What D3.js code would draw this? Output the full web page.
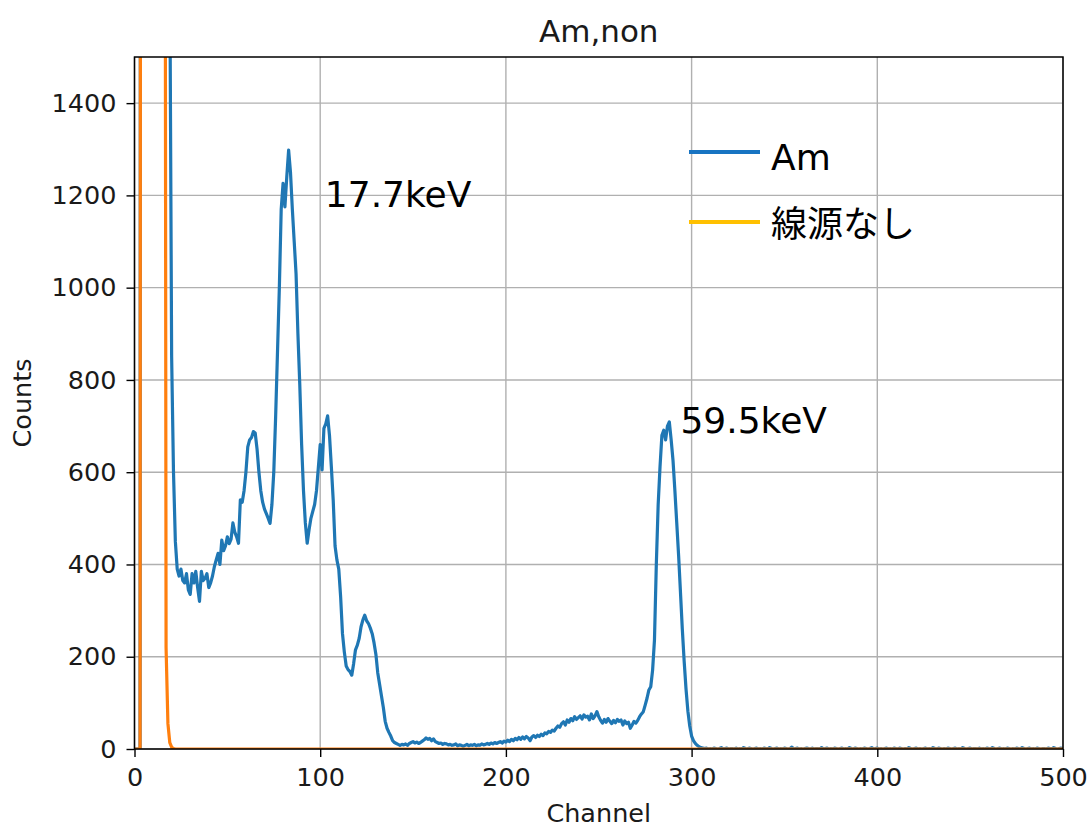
<!DOCTYPE html>
<html>
<head>
<meta charset="utf-8">
<script src="https://cdn.jsdelivr.net/npm/d3@7"></script>
<style>
  html, body { margin: 0; padding: 0; background: #ffffff; }
  svg { display: block; }
</style>
</head>
<body>
<svg id="chart" width="1089" height="827"></svg>
<script>
// Spectrum counts per channel (index = channel number), Am-241 source
const amCounts = [
  0,0,0,0,11000,10500,9500,8800,8000,7600,            // 0
  7000,6600,6200,5800,5300,4800,4200,3400,2600,1700,  // 10
  850,600,450,390,375,390,365,360,380,345,            // 20
  335,380,360,385,350,320,385,365,370,380,            // 30
  350,360,375,395,410,424,400,453,430,440,            // 40
  460,445,455,490,470,460,446,540,535,560,            // 50
  600,655,670,675,688,685,650,600,560,535,            // 60
  520,510,500,489,530,600,720,860,1000,1170,          // 70
  1226,1175,1240,1298,1250,1170,1100,1030,900,790,    // 80
  660,560,490,446,475,500,515,530,560,610,            // 90
  660,605,695,705,722,680,612,540,440,410,            // 100
  390,330,250,210,180,172,168,160,185,215,            // 110
  225,240,265,280,290,278,272,262,250,230,            // 120
  205,165,140,115,90,60,45,36,28,18,                  // 130
  14,12,10,8,10,9,11,8,12,14,                         // 140
  16,13,15,12,14,17,20,24,21,23,                      // 150
  18,22,16,14,12,13,10,12,11,9,                       // 160
  10,8,9,11,7,9,8,6,8,10,                             // 170
  7,9,8,10,7,9,8,11,9,10,                             // 180
  12,10,13,11,14,12,14,16,13,17,                      // 190
  15,19,16,21,18,23,20,25,21,26,                      // 200
  22,27,24,18,26,29,25,30,27,32,                      // 210
  29,35,33,38,36,41,39,45,50,47,                      // 220
  55,59,52,63,58,66,61,70,64,68,                      // 230
  72,65,74,69,71,63,76,66,72,81,                      // 240
  70,62,56,64,58,66,60,55,62,57,                      // 250
  64,60,63,52,61,55,58,45,52,60,                      // 260
  56,62,70,76,81,95,110,128,135,171,                  // 270
  236,400,530,612,680,691,670,700,709,670,            // 280
  625,560,490,420,340,260,190,130,82,50,              // 290
  28,18,12,8,5,3,2,1,2,0,                             // 300
  1,0,2,1,0,1,3,0,1,2,                                // 310
  0,1,1,0,2,0,1,0,3,1,                                // 320
  0,2,1,0,1,2,0,1,0,2,                                // 330
  1,0,3,1,0,1,2,0,1,0,                                // 340
  2,1,0,1,4,0,1,2,0,1,                                // 350
  0,1,2,1,0,2,0,1,1,0,                                // 360
  3,0,1,2,0,1,0,2,1,0,                                // 370
  1,2,0,1,0,3,1,0,2,1,                                // 380
  0,1,0,2,1,0,1,3,0,1,                                // 390
  2,0,1,0,1,2,0,1,0,2,                                // 400
  1,0,2,1,0,1,0,3,1,0,                                // 410
  1,2,0,1,0,1,2,0,1,0,                                // 420
  3,1,0,2,1,0,1,0,2,1,                                // 430
  0,1,2,0,1,0,3,1,0,1,                                // 440
  2,0,1,1,0,2,0,1,0,2,                                // 450
  1,0,3,1,0,1,2,0,1,0,                                // 460
  2,1,0,1,0,2,1,0,3,1,                                // 470
  0,1,2,0,1,0,2,1,0,1,                                // 480
  1,0,2,1,0,3,1,0,1,2,                                // 490
  0                                                   // 500
];

// Background run without a source (線源なし)
const noneCounts = [
  0,0,0,0,9000,14000,12000,10000,9000,8000,           // 0
  7500,7000,6500,6000,5500,5000,3800,220,55,14,       // 10
  4,1,0,0,0,0,0,0,0,0,                                // 20
  0,0,0,0,0,0,0,0,0,0, 0,0,0,0,0,0,0,0,0,0, 0,0,0,0,0,0,0,0,0,0, 0,0,0,0,0,0,0,0,0,0, 0,0,0,0,0,0,0,0,0,0, // 30
  0,0,0,0,0,0,0,0,0,0, 0,0,0,0,0,0,0,0,0,0, 0,0,0,0,0,0,0,0,0,0, 0,0,0,0,0,0,0,0,0,0, 0,0,0,0,0,0,0,0,0,0, // 80
  0,0,0,0,0,0,0,0,0,0, 0,0,0,0,0,0,0,0,0,0, 0,0,0,0,0,0,0,0,0,0, 0,0,0,0,0,0,0,0,0,0, 0,0,0,0,0,0,0,0,0,0, // 130
  0,0,0,0,0,0,0,0,0,0, 0,0,0,0,0,0,0,0,0,0, 0,0,0,0,0,0,0,0,0,0, 0,0,0,0,0,0,0,0,0,0, 0,0,0,0,0,0,0,0,0,0, // 180
  0,0,0,0,0,0,0,0,0,0, 0,0,0,0,0,0,0,0,0,0, 0,0,0,0,0,0,0,0,0,0, 0,0,0,0,0,0,0,0,0,0, 0,0,0,0,0,0,0,0,0,0, // 230
  0,0,0,0,0,0,0,0,0,0, 0,0,0,0,0,0,0,0,0,0, 0,0,0,0,0,0,0,0,0,0, 0,0,0,0,0,0,0,0,0,0, 0,0,0,0,0,0,0,0,0,0, // 280
  0,0,0,0,0,0,0,0,0,0, 0,0,0,0,0,0,0,0,0,0, 0,0,0,0,0,0,0,0,0,0, 0,0,0,0,0,0,0,0,0,0, 0,0,0,0,0,0,0,0,0,0, // 330
  0,0,0,0,0,0,0,0,0,0, 0,0,0,0,0,0,0,0,0,0, 0,0,0,0,0,0,0,0,0,0, 0,0,0,0,0,0,0,0,0,0, 0,0,0,0,0,0,0,0,0,0, // 380
  0,0,0,0,0,0,0,0,0,0, 0,0,0,0,0,0,0,0,0,0, 0,0,0,0,0,0,0,0,0,0, 0,0,0,0,0,0,0,0,0,0, 0,0,0,0,0,0,0,0,0,0, // 430
  0,0,0,0,0,0,0,0,0,0, 0,0,0,0,0,0,0,0,0,0,           // 480
  0                                                   // 500
];

const xTicks = [0, 100, 200, 300, 400, 500];
const yTicks = [0, 200, 400, 600, 800, 1000, 1200, 1400];
const xDomain = [0, 500];
const yDomain = [0, 1500];

const titleText = "Am,non";
const xLabel = "Channel";
const yLabel = "Counts";
const seriesNames = ["Am", "線源なし"];
const peakLabels = [
  { text: "17.7keV", channel: 102.5, counts: 1175 },
  { text: "59.5keV", channel: 294, counts: 685 }
];

// ---- layout ----
const svg = d3.select("#chart");
const M = { left: 134.5, right: 1063, top: 57, bottom: 749 };
const tickFont = "'DejaVu Sans', sans-serif";
const noteFont = "'DejaVu Sans', 'Noto Sans CJK JP', sans-serif";

const x = d3.scaleLinear().domain(xDomain).range([M.left, M.right]);
const y = d3.scaleLinear().domain(yDomain).range([M.bottom, M.top]);

// grid
const grid = svg.append("g").attr("stroke", "#b0b0b0").attr("stroke-width", 1.4);
grid.selectAll("line.gx").data(xTicks).join("line")
  .attr("x1", d => x(d)).attr("x2", d => x(d))
  .attr("y1", M.top).attr("y2", M.bottom);
grid.selectAll("line.gy").data(yTicks).join("line")
  .attr("x1", M.left).attr("x2", M.right)
  .attr("y1", d => y(d)).attr("y2", d => y(d));

// spectra, clipped to the axes box
svg.append("clipPath").attr("id", "plotClip")
  .append("rect")
  .attr("x", M.left).attr("y", M.top)
  .attr("width", M.right - M.left).attr("height", M.bottom - M.top);

const line = d3.line()
  .x((d, i) => x(i))
  .y(d => y(d));

const plotG = svg.append("g").attr("clip-path", "url(#plotClip)");
plotG.append("path").datum(amCounts)
  .attr("d", line)
  .attr("fill", "none").attr("stroke", "#1f77b4")
  .attr("stroke-width", 3.2).attr("stroke-linejoin", "round");
plotG.append("path").datum(noneCounts)
  .attr("d", line)
  .attr("fill", "none").attr("stroke", "#ff7f0e")
  .attr("stroke-width", 3.2).attr("stroke-linejoin", "round");

// axes
const xAxis = d3.axisBottom(x).tickValues(xTicks).tickSize(8).tickPadding(10).tickFormat(d3.format("d"));
const yAxis = d3.axisLeft(y).tickValues(yTicks).tickSize(8).tickPadding(10).tickFormat(d3.format("d"));

const gx = svg.append("g").attr("transform", `translate(0,${M.bottom})`).call(xAxis);
const gy = svg.append("g").attr("transform", `translate(${M.left},0)`).call(yAxis);
[gx, gy].forEach(g => {
  g.select(".domain").remove();
  g.selectAll(".tick line").attr("stroke", "#000").attr("stroke-width", 1.4);
  g.selectAll(".tick text")
    .attr("fill", "#1a1a1a")
    .style("font-family", tickFont)
    .style("font-size", "25.5px");
});
gx.selectAll(".tick text").attr("dy", "0.76em");

// spines
svg.append("rect")
  .attr("x", M.left).attr("y", M.top)
  .attr("width", M.right - M.left).attr("height", M.bottom - M.top)
  .attr("fill", "none").attr("stroke", "#000").attr("stroke-width", 1.5);

// title and axis labels
svg.append("text")
  .attr("x", (M.left + M.right) / 2).attr("y", 42)
  .attr("text-anchor", "middle")
  .style("font-family", tickFont).style("font-size", "31px")
  .attr("fill", "#1a1a1a")
  .text(titleText);

svg.append("text")
  .attr("x", (M.left + M.right) / 2).attr("y", 822)
  .attr("text-anchor", "middle")
  .style("font-family", tickFont).style("font-size", "25.5px")
  .attr("fill", "#1a1a1a")
  .text(xLabel);

svg.append("text")
  .attr("transform", `translate(31,${(M.top + M.bottom) / 2}) rotate(-90)`)
  .attr("text-anchor", "middle")
  .style("font-family", tickFont).style("font-size", "25.5px")
  .attr("fill", "#1a1a1a")
  .text(yLabel);

// peak annotations
svg.selectAll("text.peak").data(peakLabels).join("text")
  .attr("class", "peak")
  .attr("x", d => x(d.channel))
  .attr("y", d => y(d.counts))
  .style("font-family", noteFont).style("font-size", "36px")
  .attr("fill", "#000")
  .text(d => d.text);

// legend
const legendColors = ["#1874c2", "#ffc000"];
const legend = svg.append("g");
const legendRows = [{ yLine: 152, yText: 170 }, { yLine: 222, yText: 237 }];
seriesNames.forEach((name, i) => {
  legend.append("line")
    .attr("x1", 689).attr("x2", 760)
    .attr("y1", legendRows[i].yLine).attr("y2", legendRows[i].yLine)
    .attr("stroke", legendColors[i]).attr("stroke-width", 4);
  legend.append("text")
    .attr("x", 771).attr("y", legendRows[i].yText)
    .style("font-family", noteFont).style("font-size", "36px")
    .attr("fill", "#000")
    .text(name);
});
</script>
</body>
</html>
